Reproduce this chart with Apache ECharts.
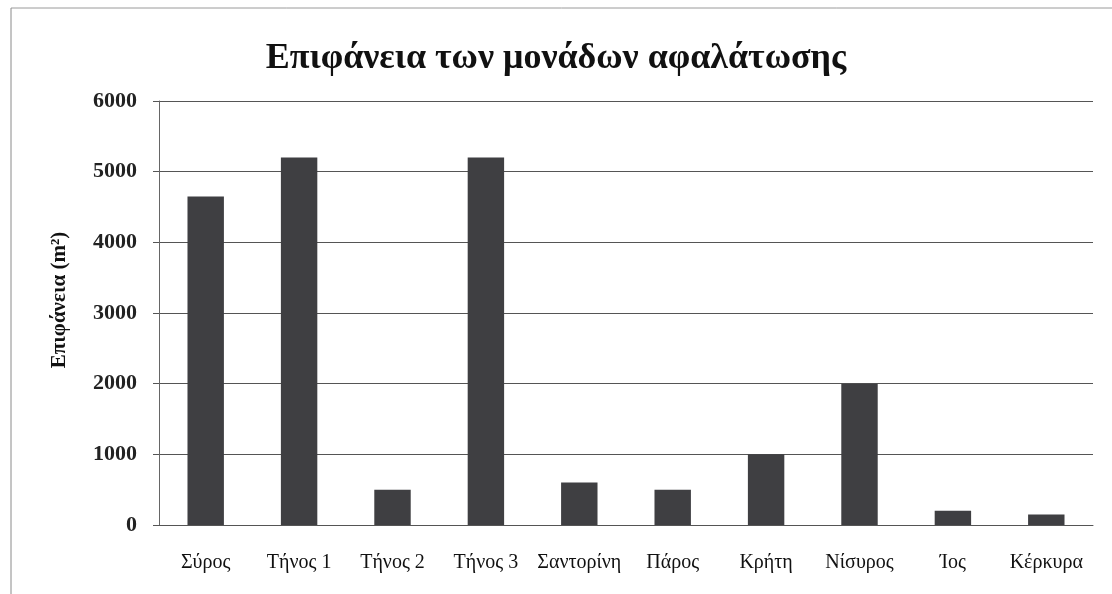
<!DOCTYPE html>
<html>
<head>
<meta charset="utf-8">
<script src="https://cdn.jsdelivr.net/npm/echarts@6/dist/echarts.min.js"></script>
<style>
html,body{margin:0;padding:0;background:#fff;}
#chart{width:1112px;height:594px;}
</style>
</head>
<body>
<div id="chart"></div>
<script>
var titleText = 'Επιφάνεια των μονάδων αφαλάτωσης';
var yAxisName = 'Επιφάνεια (m²)';
var categories = ['Σύρος', 'Τήνος 1', 'Τήνος 2', 'Τήνος 3', 'Σαντορίνη', 'Πάρος', 'Κρήτη', 'Νίσυρος', 'Ίος', 'Κέρκυρα'];
var areaValues = [4650, 5200, 500, 5200, 600, 500, 1000, 2000, 200, 150];
var yTicks = [0, 1000, 2000, 3000, 4000, 5000, 6000];

var chart = echarts.init(document.getElementById('chart'), null, {renderer: 'canvas'});
var serif = '"Liberation Serif", "Times New Roman", "DejaVu Serif", serif';
chart.setOption({
  animation: false,
  backgroundColor: '#ffffff',
  title: {
    text: titleText,
    left: 'center',
    top: 36,
    textStyle: {fontFamily: serif, fontSize: 36, fontWeight: 'bold', color: '#111'}
  },
  graphic: [
    {type: 'line', shape: {x1: 11, y1: 8, x2: 1112, y2: 8}, style: {stroke: '#9a9a9a', lineWidth: 1}},
    {type: 'line', shape: {x1: 11, y1: 8, x2: 11, y2: 594}, style: {stroke: '#8a8a8a', lineWidth: 1}}
  ],
  grid: {left: 159, right: 19, top: 101, bottom: 69},
  xAxis: {
    type: 'category',
    data: categories,
    axisLine: {show: true, lineStyle: {color: '#555', width: 1}},
    axisTick: {show: false},
    axisLabel: {fontFamily: serif, fontSize: 20, color: '#111', margin: 28, interval: 0}
  },
  yAxis: {
    type: 'value',
    min: yTicks[0],
    max: yTicks[yTicks.length - 1],
    interval: 1000,
    name: yAxisName,
    nameLocation: 'middle',
    nameGap: 89,
    nameTextStyle: {fontFamily: serif, fontSize: 21, fontWeight: 'bold', color: '#111', padding: [0, 0, 0, 26]},
    axisLine: {show: true, lineStyle: {color: '#666', width: 1}},
    axisTick: {show: true, inside: false, length: 6, lineStyle: {color: '#555'}},
    axisLabel: {fontFamily: serif, fontSize: 22, fontWeight: 'bold', color: '#222', margin: 22,
      formatter: function (v) { return String(v); }},
    splitLine: {show: true, lineStyle: {color: '#555', width: 1}}
  },
  series: [{
    type: 'bar',
    data: areaValues,
    barWidth: '39%',
    itemStyle: {color: '#3f3f42'}
  }]
});
</script>
</body>
</html>
